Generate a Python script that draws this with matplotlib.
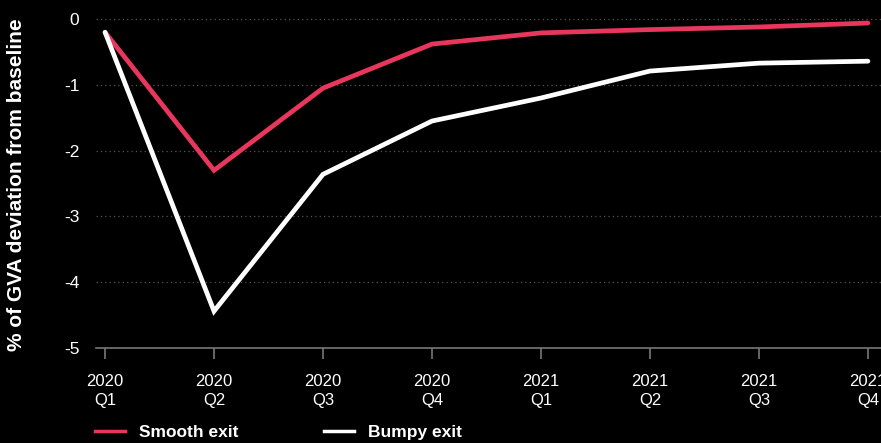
import numpy as np
import matplotlib
matplotlib.use("Agg")
import matplotlib.pyplot as plt
from matplotlib.lines import Line2D

plt.rcParams["font.family"] = ["Liberation Sans", "DejaVu Sans"]

quarters = ["2020\nQ1", "2020\nQ2", "2020\nQ3", "2020\nQ4",
            "2021\nQ1", "2021\nQ2", "2021\nQ3", "2021\nQ4"]
smooth_exit = [-0.2, -2.3, -1.05, -0.38, -0.21, -0.16, -0.12, -0.06]
bumpy_exit = [-0.2, -4.44, -2.36, -1.55, -1.2, -0.79, -0.67, -0.64]

RED = "#e8365d"

fig = plt.figure(figsize=(8.81, 4.43), dpi=100, facecolor="black")
ax = fig.add_axes([96 / 881, 1 - 348 / 443, 1 - 96 / 881, 348 / 443])
ax.set_facecolor("black")

x = np.arange(len(quarters))
ax.plot(x, smooth_exit, color=RED, linewidth=3.4, solid_capstyle="round",
        solid_joinstyle="miter", zorder=3)
ax.plot(x, bumpy_exit, color="white", linewidth=3.4, solid_capstyle="round",
        solid_joinstyle="miter", zorder=4)

ax.set_xlim(-0.083, 7.12)
ax.set_ylim(-5, 0.29)
ax.set_yticks([0, -1, -2, -3, -4, -5])
ax.set_yticklabels(["0", "-1", "-2", "-3", "-4", "-5"])
ax.set_xticks(x)
ax.set_xticklabels(quarters, linespacing=1.3)

for yv in [0, -1, -2, -3, -4]:
    ax.axhline(yv, color="#555555", linewidth=0.9, linestyle=(0, (1, 2.5)), zorder=1)

for side in ["top", "right", "left"]:
    ax.spines[side].set_visible(False)
ax.spines["bottom"].set_color("#777777")
ax.spines["bottom"].set_linewidth(1.2)

ax.tick_params(axis="y", length=0, pad=12, labelsize=12.5, labelcolor="white")
ax.tick_params(axis="x", length=8, width=1.2, color="#777777", pad=11,
               labelsize=12, labelcolor="white")

fig.text(17 / 881, 1 - 185 / 443, "% of GVA deviation from baseline",
         rotation=90, ha="center", va="center", color="white",
         fontsize=15, fontweight="bold")

handles = [Line2D([], [], color=RED, linewidth=2.5),
           Line2D([], [], color="white", linewidth=2.5)]
leg = fig.legend(handles, ["Smooth exit", "Bumpy exit"], loc="center left",
                 bbox_to_anchor=(88 / 881, 1 - 432 / 443), ncol=2, frameon=False,
                 handlelength=1.75, handletextpad=0.8, columnspacing=4.9,
                 borderpad=0.2, borderaxespad=0.2,
                 prop={"weight": "bold", "size": 12.5})
for t in leg.get_texts():
    t.set_color("white")

fig.savefig("out.png", dpi=100, facecolor="black")
